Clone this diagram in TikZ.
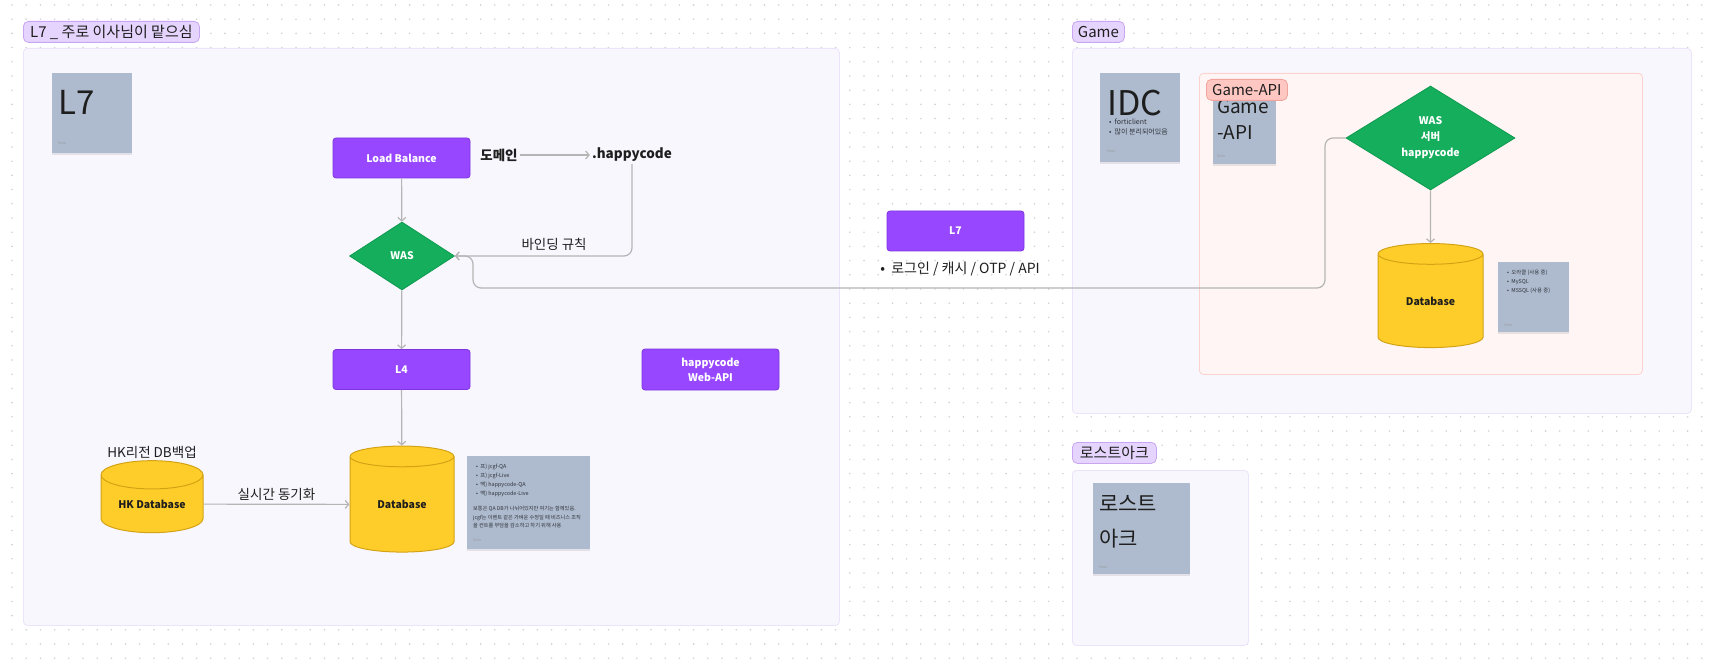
\documentclass[tikz,border=0pt]{standalone}
\usepackage{fontspec}
\setmainfont{Noto Sans CJK KR}
\usetikzlibrary{arrows.meta,positioning,shapes.geometric,shadows}
\definecolor{sectfill}{HTML}{F9F7FE}
\definecolor{sectline}{HTML}{ECE4FA}
\definecolor{tagfill}{HTML}{E5D4FD}
\definecolor{tagline}{HTML}{C8A6F4}
\definecolor{apifill}{HTML}{FFF5F4}
\definecolor{apiline}{HTML}{FCD2CE}
\definecolor{apitag}{HTML}{FFC7C2}
\definecolor{apitagline}{HTML}{F0A49D}
\definecolor{boxfill}{HTML}{9747FF}
\definecolor{boxline}{HTML}{7E35E0}
\definecolor{wasfill}{HTML}{14AE5C}
\definecolor{wasline}{HTML}{0F9A50}
\definecolor{dbfill}{HTML}{FFCD29}
\definecolor{dbline}{HTML}{D3A316}
\definecolor{notefill}{HTML}{AEBACD}
\definecolor{inkc}{HTML}{1E1E1E}
\definecolor{notetxtc}{HTML}{2E333B}
\definecolor{wirec}{HTML}{B5B5B5}
\definecolor{dotc}{HTML}{D2D2D2}

\begin{document}
\begin{tikzpicture}[x=1pt, y=-1pt,
  section/.style={draw=sectline, fill=sectfill, rounded corners=4, line width=0.8, anchor=north west},
  apisection/.style={draw=apiline, fill=apifill, rounded corners=4, line width=0.8, anchor=north west},
  tag/.style={draw=tagline, fill=tagfill, rounded corners=5, line width=0.8, anchor=north west, inner sep=0, text=inkc, font=\fontsize{15}{17}\selectfont},
  apitagbox/.style={tag, draw=apitagline, fill=apitag},
  sticky/.style={fill=notefill, anchor=north west, inner sep=0, drop shadow={opacity=0.18, shadow xshift=0pt, shadow yshift=-1.5pt}},
  footer/.style={anchor=base west, text=notetxtc!50, font=\fontsize{3.5}{4}\selectfont, inner sep=0},
  stepbox/.style={draw=boxline, fill=boxfill, rounded corners=3, line width=0.8, minimum width=137, minimum height=40, text=white, align=center, font=\bfseries\fontsize{10.5}{15}\selectfont},
  decision/.style={draw=wasline, fill=wasfill, diamond, line width=0.8, inner sep=0, aspect=1.6, text=white, align=center, font=\bfseries\fontsize{10.5}{16}\selectfont},
  store/.style={cylinder, shape border rotate=90, aspect=0.42, draw=dbline, fill=dbfill, line width=1, inner sep=0, text=inkc, font=\bfseries\fontsize{10.5}{13}\selectfont},
  label/.style={text=inkc, inner sep=2, font=\fontsize{13.5}{16}\selectfont},
  wire/.style={draw=wirec, line width=1.2, -{Straight Barb[length=3.5, width=8]}}
]
\useasboundingbox (0,0) rectangle (1709,663);
\fill[white] (0,0) rectangle (1709,663);
\foreach \i in {0,...,120} {
  \foreach \j in {0,...,46} {
    \fill[dotc] ({12+14.2*\i},{5+14.2*\j}) circle (0.9);
  }
}

\node[section, minimum width=816, minimum height=577] (sectL7) at (23,48) {};
\node[tag, minimum width=176, minimum height=21] (tagL7) at (23,21) {L7 \_ 주로 이사님이 맡으심};
\node[section, minimum width=619, minimum height=365] (sectGame) at (1072,48) {};
\node[tag, minimum width=52, minimum height=21] (tagGame) at (1072,21) {Game};
\node[section, minimum width=176, minimum height=175] (sectLost) at (1072,470) {};
\node[tag, minimum width=84, minimum height=21] (tagLost) at (1072,442) {로스트아크};
\node[apisection, minimum width=443, minimum height=301] (sectApi) at (1199,73) {};

\node[sticky, minimum width=80, minimum height=80] (noteL7) at (52,73) {};
\node[anchor=base west, inner sep=0, text=inkc, font=\fontsize{33}{36}\selectfont] (noteL7t) at ([shift={(6,42)}]noteL7.north west) {L7};
\node[footer] at ([shift={(6,72)}]noteL7.north west) {Yerin};

\node[sticky, minimum width=80, minimum height=89] (noteIdc) at (1100,73) {};
\node[anchor=base west, inner sep=0, text=inkc, font=\fontsize{34}{36}\selectfont] (noteIdct) at ([shift={(7,43)}]noteIdc.north west) {IDC};
\node[anchor=north west, inner sep=0, text=notetxtc, align=left, font=\fontsize{7}{10}\selectfont] (noteIdcl) at ([shift={(9,46)}]noteIdc.north west) {• \ forticlient\\• \ 많이 분리되어있음};
\node[footer] at ([shift={(7,80)}]noteIdc.north west) {Yerin};

\node[sticky, minimum width=63, minimum height=80] (noteApi) at (1213,84) {};
\node[anchor=north west, inner sep=0, text=inkc, align=left, font=\fontsize{19}{26}\selectfont] (noteApit) at ([shift={(4,15)}]noteApi.north west) {Game\\-API};
\node[footer] at ([shift={(4,74)}]noteApi.north west) {Yerin};
\node[apitagbox, minimum width=81, minimum height=21] (tagApi) at (1206,79) {Game-API};

\node[sticky, minimum width=97, minimum height=91] (noteLost) at (1093,483) {};
\node[anchor=north west, inner sep=0, text=inkc, align=left, font=\fontsize{21}{35}\selectfont] (noteLostt) at ([shift={(6,12)}]noteLost.north west) {로스트\\아크};
\node[footer] at ([shift={(6,85)}]noteLost.north west) {Yerin};

\node[sticky, minimum width=123, minimum height=93] (noteDb) at (467,456) {};
\node[anchor=north west, inner sep=0, text=notetxtc, align=left, font=\fontsize{5.4}{9}\selectfont] (noteDbl) at ([shift={(9,8)}]noteDb.north west) {• \ 프) jcgf-QA\\• \ 프) jcgf-Live\\• \ 백) happycode-QA\\• \ 백) happycode-Live};
\node[anchor=north west, inner sep=0, text=notetxtc, align=left, font=\fontsize{5.2}{8.5}\selectfont] (noteDbp) at ([shift={(6,50)}]noteDb.north west) {보통은 QA DB가 나뉘어있지만 여기는 함께있음.\\jcgf는 이벤트 같은 가벼운 수정일 때 비즈니스 조직\\을 컨트롤 부담을 감소하고 하기 위해 사용};
\node[footer] at ([shift={(6,85)}]noteDb.north west) {Yerin};

\node[sticky, minimum width=71, minimum height=70] (noteGdb) at (1498,262) {};
\node[anchor=north west, inner sep=0, text=notetxtc, align=left, font=\fontsize{5.4}{9}\selectfont] (noteGdbl) at ([shift={(9,8)}]noteGdb.north west) {• \ 오라클 (사용 중)\\• \ MySQL\\• \ MSSQL (사용 중)};
\node[footer] at ([shift={(6,64)}]noteGdb.north west) {Yerin};

\node[stepbox] (lb) at (401.5,158) {Load Balance};
\node[label, font=\bfseries\fontsize{13.5}{16}\selectfont] (dom) at (499,155) {도메인};
\node[label, font=\bfseries\fontsize{13.5}{16}\selectfont] (hc) at (632,155) {.happycode};
\node[decision, minimum width=105, minimum height=68] (was) at (402,256) {WAS};
\node[stepbox] (l4) at (401.5,369.5) {L4};
\node[store, minimum width=104, minimum height=106] (db) at (402,504.5) {Database};
\node[store, minimum width=102, minimum height=72] (hkdb) at (152,504) {HK Database};
\node[label] (hkname) at (152,452) {HK리전 DB백업};
\node[stepbox, minimum height=41] (web) at (710.5,369.5) {happycode\\Web-API};

\node[stepbox] (mid) at (955.5,231) {L7};
\node[label, font=\fontsize{14}{16}\selectfont] (midl) at (960,269) {•\ \ 로그인 / 캐시 / OTP / API};

\node[decision, minimum width=169, minimum height=104] (gwas) at (1430.5,138) {WAS\\서버\\happycode};
\node[store, minimum width=105, minimum height=104] (gdb) at (1430.5,301) {Database};

\draw[wire] (lb) -- (was);
\draw[wire] (was) -- (l4);
\draw[wire] (l4) -- (db);
\draw[wire] (hkdb) -- node[label, above, yshift=1]{실시간 동기화} (db);
\draw[wire] (dom) -- (hc);
\draw[wire, rounded corners=8] (hc.south) |- node[label, pos=0.72, above, yshift=3]{바인딩 규칙} (was.east);
\draw[wire, rounded corners=8] (gwas.west) -- (1325,138) -- (1325,288) -- (473,288) -- (473,256) -- (was.east);
\draw[wire] (gwas) -- (gdb);
\end{tikzpicture}
\end{document}
